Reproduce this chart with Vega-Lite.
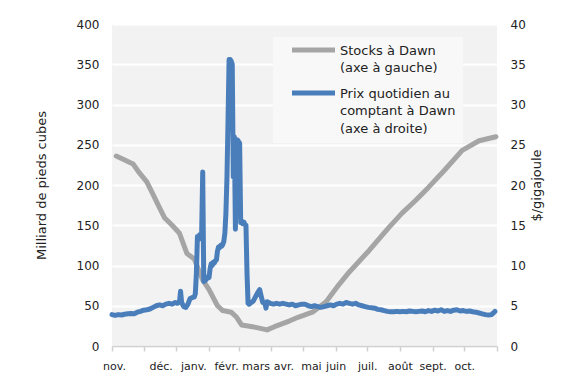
{
  "$schema": "https://vega.github.io/schema/vega-lite/v6.json",
  "width": 385,
  "height": 322,
  "autosize": "none",
  "padding": {"left": 112, "top": 24, "right": 83, "bottom": 46},
  "background": "white",
  "config": {
    "view": {"fill": "#f2f2f2", "stroke": null},
    "font": "DejaVu Sans",
    "axis": {"labelFont": "DejaVu Sans", "titleFont": "DejaVu Sans", "labelColor": "#222222", "titleColor": "#222222", "titleFontWeight": "normal"}
  },
  "datasets": {
    "stocks": [
      {"date": "2013-11-05", "value": 236},
      {"date": "2013-11-13", "value": 231},
      {"date": "2013-11-21", "value": 226},
      {"date": "2013-11-27", "value": 215},
      {"date": "2013-12-04", "value": 204},
      {"date": "2013-12-10", "value": 188},
      {"date": "2013-12-16", "value": 172},
      {"date": "2013-12-21", "value": 159},
      {"date": "2013-12-28", "value": 150},
      {"date": "2014-01-04", "value": 140},
      {"date": "2014-01-11", "value": 115},
      {"date": "2014-01-18", "value": 108},
      {"date": "2014-01-26", "value": 82},
      {"date": "2014-02-01", "value": 70},
      {"date": "2014-02-09", "value": 50},
      {"date": "2014-02-14", "value": 44},
      {"date": "2014-02-22", "value": 42},
      {"date": "2014-02-27", "value": 36},
      {"date": "2014-03-04", "value": 26},
      {"date": "2014-03-14", "value": 24},
      {"date": "2014-03-28", "value": 20},
      {"date": "2014-04-04", "value": 24},
      {"date": "2014-04-18", "value": 31},
      {"date": "2014-04-27", "value": 36},
      {"date": "2014-05-10", "value": 42},
      {"date": "2014-05-23", "value": 55},
      {"date": "2014-06-04", "value": 76},
      {"date": "2014-06-14", "value": 92},
      {"date": "2014-07-03", "value": 119},
      {"date": "2014-07-22", "value": 148},
      {"date": "2014-08-03", "value": 165},
      {"date": "2014-08-16", "value": 181},
      {"date": "2014-08-28", "value": 197},
      {"date": "2014-09-12", "value": 218},
      {"date": "2014-09-29", "value": 243},
      {"date": "2014-10-15", "value": 255},
      {"date": "2014-10-31", "value": 260}
    ],
    "prix": [
      {"date": "2013-11-01", "value": 3.9},
      {"date": "2013-11-04", "value": 3.8},
      {"date": "2013-11-07", "value": 3.9},
      {"date": "2013-11-10", "value": 3.85},
      {"date": "2013-11-13", "value": 3.95},
      {"date": "2013-11-16", "value": 4.0},
      {"date": "2013-11-19", "value": 4.05},
      {"date": "2013-11-22", "value": 4.0},
      {"date": "2013-11-25", "value": 4.2},
      {"date": "2013-11-28", "value": 4.3},
      {"date": "2013-12-01", "value": 4.45},
      {"date": "2013-12-04", "value": 4.5},
      {"date": "2013-12-07", "value": 4.6},
      {"date": "2013-12-10", "value": 4.8},
      {"date": "2013-12-13", "value": 5.0},
      {"date": "2013-12-16", "value": 5.1},
      {"date": "2013-12-19", "value": 5.0},
      {"date": "2013-12-22", "value": 5.2},
      {"date": "2013-12-25", "value": 5.3},
      {"date": "2013-12-28", "value": 5.2},
      {"date": "2013-12-31", "value": 5.4},
      {"date": "2014-01-02", "value": 5.3},
      {"date": "2014-01-04", "value": 5.5},
      {"date": "2014-01-05", "value": 6.8},
      {"date": "2014-01-06", "value": 5.4},
      {"date": "2014-01-08", "value": 4.9},
      {"date": "2014-01-10", "value": 4.8},
      {"date": "2014-01-12", "value": 5.2},
      {"date": "2014-01-14", "value": 5.9},
      {"date": "2014-01-16", "value": 6.0},
      {"date": "2014-01-18", "value": 6.1},
      {"date": "2014-01-19", "value": 6.5},
      {"date": "2014-01-20", "value": 9.0},
      {"date": "2014-01-21", "value": 13.6},
      {"date": "2014-01-22", "value": 13.2},
      {"date": "2014-01-23", "value": 13.8},
      {"date": "2014-01-24", "value": 13.5},
      {"date": "2014-01-25", "value": 14.0},
      {"date": "2014-01-26", "value": 21.6},
      {"date": "2014-01-27", "value": 8.0},
      {"date": "2014-01-28", "value": 8.1},
      {"date": "2014-01-29", "value": 8.2},
      {"date": "2014-01-30", "value": 8.4},
      {"date": "2014-01-31", "value": 8.6},
      {"date": "2014-02-01", "value": 8.5},
      {"date": "2014-02-02", "value": 9.6},
      {"date": "2014-02-03", "value": 10.2},
      {"date": "2014-02-04", "value": 10.0},
      {"date": "2014-02-05", "value": 10.4},
      {"date": "2014-02-06", "value": 10.3},
      {"date": "2014-02-07", "value": 10.6},
      {"date": "2014-02-08", "value": 10.7},
      {"date": "2014-02-09", "value": 11.8},
      {"date": "2014-02-10", "value": 12.3},
      {"date": "2014-02-11", "value": 12.2},
      {"date": "2014-02-12", "value": 12.5},
      {"date": "2014-02-13", "value": 12.4},
      {"date": "2014-02-14", "value": 12.6},
      {"date": "2014-02-15", "value": 13.0},
      {"date": "2014-02-16", "value": 14.0},
      {"date": "2014-02-17", "value": 16.5},
      {"date": "2014-02-18", "value": 21.0},
      {"date": "2014-02-19", "value": 28.0},
      {"date": "2014-02-20", "value": 35.6},
      {"date": "2014-02-21", "value": 35.6},
      {"date": "2014-02-22", "value": 35.4},
      {"date": "2014-02-23", "value": 35.0},
      {"date": "2014-02-24", "value": 21.0},
      {"date": "2014-02-25", "value": 26.0},
      {"date": "2014-02-26", "value": 14.5},
      {"date": "2014-02-27", "value": 25.3},
      {"date": "2014-02-28", "value": 25.6},
      {"date": "2014-03-01", "value": 25.4},
      {"date": "2014-03-02", "value": 25.2},
      {"date": "2014-03-03", "value": 15.3},
      {"date": "2014-03-04", "value": 15.5},
      {"date": "2014-03-05", "value": 15.2},
      {"date": "2014-03-06", "value": 15.4},
      {"date": "2014-03-07", "value": 15.1},
      {"date": "2014-03-08", "value": 15.0},
      {"date": "2014-03-09", "value": 9.0},
      {"date": "2014-03-10", "value": 5.3},
      {"date": "2014-03-11", "value": 5.2},
      {"date": "2014-03-13", "value": 5.4},
      {"date": "2014-03-15", "value": 5.6},
      {"date": "2014-03-17", "value": 6.1},
      {"date": "2014-03-19", "value": 6.6},
      {"date": "2014-03-21", "value": 7.0},
      {"date": "2014-03-22", "value": 6.4},
      {"date": "2014-03-24", "value": 5.4},
      {"date": "2014-03-26", "value": 5.3},
      {"date": "2014-03-27", "value": 4.7},
      {"date": "2014-03-28", "value": 5.5},
      {"date": "2014-03-31", "value": 5.3},
      {"date": "2014-04-03", "value": 5.2},
      {"date": "2014-04-06", "value": 5.3},
      {"date": "2014-04-09", "value": 5.2},
      {"date": "2014-04-12", "value": 5.3},
      {"date": "2014-04-15", "value": 5.2},
      {"date": "2014-04-18", "value": 5.1},
      {"date": "2014-04-21", "value": 5.2},
      {"date": "2014-04-24", "value": 5.0},
      {"date": "2014-04-27", "value": 5.1},
      {"date": "2014-04-30", "value": 5.2},
      {"date": "2014-05-03", "value": 5.2},
      {"date": "2014-05-06", "value": 5.0},
      {"date": "2014-05-09", "value": 4.9},
      {"date": "2014-05-12", "value": 5.0},
      {"date": "2014-05-15", "value": 4.9},
      {"date": "2014-05-18", "value": 4.8},
      {"date": "2014-05-21", "value": 4.9},
      {"date": "2014-05-24", "value": 5.0},
      {"date": "2014-05-27", "value": 5.1},
      {"date": "2014-05-30", "value": 5.0},
      {"date": "2014-06-02", "value": 5.2},
      {"date": "2014-06-05", "value": 5.3},
      {"date": "2014-06-08", "value": 5.2},
      {"date": "2014-06-11", "value": 5.4},
      {"date": "2014-06-14", "value": 5.3},
      {"date": "2014-06-17", "value": 5.2},
      {"date": "2014-06-20", "value": 5.3},
      {"date": "2014-06-23", "value": 5.1},
      {"date": "2014-06-26", "value": 5.0},
      {"date": "2014-06-29", "value": 4.9},
      {"date": "2014-07-02", "value": 4.8},
      {"date": "2014-07-05", "value": 4.75},
      {"date": "2014-07-08", "value": 4.7},
      {"date": "2014-07-11", "value": 4.55},
      {"date": "2014-07-14", "value": 4.5},
      {"date": "2014-07-17", "value": 4.4},
      {"date": "2014-07-20", "value": 4.3},
      {"date": "2014-07-23", "value": 4.25},
      {"date": "2014-07-26", "value": 4.25},
      {"date": "2014-07-29", "value": 4.3},
      {"date": "2014-08-01", "value": 4.25},
      {"date": "2014-08-04", "value": 4.3},
      {"date": "2014-08-07", "value": 4.25},
      {"date": "2014-08-10", "value": 4.35},
      {"date": "2014-08-13", "value": 4.3},
      {"date": "2014-08-16", "value": 4.25},
      {"date": "2014-08-19", "value": 4.3},
      {"date": "2014-08-22", "value": 4.35},
      {"date": "2014-08-25", "value": 4.25},
      {"date": "2014-08-28", "value": 4.4},
      {"date": "2014-08-31", "value": 4.3},
      {"date": "2014-09-03", "value": 4.45},
      {"date": "2014-09-06", "value": 4.35},
      {"date": "2014-09-09", "value": 4.5},
      {"date": "2014-09-12", "value": 4.3},
      {"date": "2014-09-15", "value": 4.4},
      {"date": "2014-09-18", "value": 4.3},
      {"date": "2014-09-21", "value": 4.45},
      {"date": "2014-09-24", "value": 4.5},
      {"date": "2014-09-27", "value": 4.35},
      {"date": "2014-09-30", "value": 4.4},
      {"date": "2014-10-03", "value": 4.3},
      {"date": "2014-10-06", "value": 4.35},
      {"date": "2014-10-09", "value": 4.25},
      {"date": "2014-10-12", "value": 4.2},
      {"date": "2014-10-15", "value": 4.1},
      {"date": "2014-10-18", "value": 4.0},
      {"date": "2014-10-21", "value": 3.9},
      {"date": "2014-10-24", "value": 3.85},
      {"date": "2014-10-27", "value": 3.9},
      {"date": "2014-10-30", "value": 4.3}
    ]
  },
  "layer": [
    {
      "data": {"name": "stocks"},
      "mark": {"type": "line", "strokeWidth": 5, "strokeCap": "round", "strokeJoin": "round"},
      "encoding": {
        "x": {
          "field": "date",
          "type": "temporal",
          "scale": {"type": "utc", "domain": [{"year": 2013, "month": 11, "date": 1, "utc": true}, {"year": 2014, "month": 11, "date": 1, "utc": true}]},
          "axis": {
            "title": null,
            "tickCount": {"interval": "month", "step": 1},
            "grid": false,
            "domain": true,
            "domainColor": "#d0d0d0",
            "domainWidth": 1.5,
            "ticks": true,
            "tickColor": "#d0d0d0",
            "tickWidth": 1.5,
            "tickSize": 5,
            "labelFontSize": 11,
            "labelPadding": 9,
            "labelOverlap": false,
            "labelFlush": false,
            "labelExpr": "(utcyear(datum.value) == 2014 && utcmonth(datum.value) == 10) ? '' : ['janv.','févr.','mars','avr.','mai','juin','juil.','août','sept.','oct.','nov.','déc.'][utcmonth(datum.value)]",
            "labelOffset": {
              "condition": [
                {"test": "utcmonth(datum.value) == 10", "value": 2},
                {"test": "utcmonth(datum.value) == 11 || utcmonth(datum.value) <= 2", "value": 17},
                {"test": "utcmonth(datum.value) == 3", "value": 12},
                {"test": "utcmonth(datum.value) == 4", "value": 8}
              ],
              "value": 0
            }
          }
        },
        "y": {
          "field": "value",
          "type": "quantitative",
          "scale": {"domain": [0, 400]},
          "axis": {
            "title": "Milliard de pieds cubes",
            "values": [0, 50, 100, 150, 200, 250, 300, 350, 400],
            "grid": true,
            "gridColor": "#ffffff",
            "gridWidth": 2,
            "domain": false,
            "ticks": false,
            "labelPadding": 13,
            "labelFontSize": 12,
            "titleFontSize": 13,
            "titlePadding": 28
          }
        },
        "color": {
          "datum": "Stocks à Dawn\n(axe à gauche)",
          "type": "nominal",
          "scale": {
            "domain": ["Stocks à Dawn\n(axe à gauche)", "Prix quotidien au\ncomptant à Dawn\n(axe à droite)"],
            "range": ["#a5a5a5", "#4a7ebb"]
          },
          "legend": {
            "orient": "none",
            "legendX": 161,
            "legendY": 13,
            "title": null,
            "symbolType": "stroke",
            "symbolSize": 1850,
            "symbolStrokeWidth": 5,
            "symbolOffset": 9,
            "clipHeight": 12,
            "labelFont": "DejaVu Sans",
            "labelFontSize": 13,
            "labelColor": "#222222",
            "labelBaseline": "alphabetic",
            "labelOffset": 2,
            "labelLimit": 0,
            "rowPadding": 12,
            "fillColor": "#f8f8f8",
            "padding": 7,
            "labelExpr": "split(datum.label, '\\n')",
            "encode": {
              "labels": {"update": {"lineHeight": {"value": 17.5}, "dy": {"value": 4.5}}}
            }
          }
        }
      }
    },
    {
      "data": {"name": "prix"},
      "mark": {"type": "line", "strokeWidth": 5, "strokeCap": "round", "strokeJoin": "round"},
      "encoding": {
        "x": {"field": "date", "type": "temporal"},
        "y": {
          "field": "value",
          "type": "quantitative",
          "scale": {"domain": [0, 40]},
          "axis": {
            "orient": "right",
            "title": "$/gigajoule",
            "values": [0, 5, 10, 15, 20, 25, 30, 35, 40],
            "grid": false,
            "domain": false,
            "ticks": false,
            "labelPadding": 13,
            "labelFontSize": 12,
            "titleFontSize": 13,
            "titleAngle": 270,
            "titlePadding": 18
          }
        },
        "color": {"datum": "Prix quotidien au\ncomptant à Dawn\n(axe à droite)", "type": "nominal"}
      }
    }
  ],
  "resolve": {"scale": {"y": "independent"}}
}
